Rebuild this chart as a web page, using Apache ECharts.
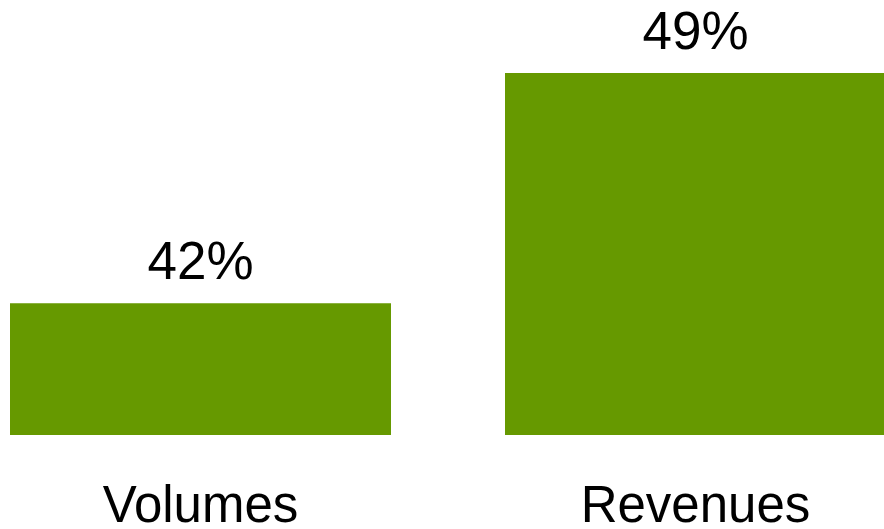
<!DOCTYPE html>
<html>
<head>
<meta charset="utf-8">
<script src="https://cdn.jsdelivr.net/npm/echarts@6/dist/echarts.min.js"></script>
<style>
  html, body { margin: 0; padding: 0; background: #ffffff; }
  #chart { width: 884px; height: 529px; }
</style>
</head>
<body>
<div id="chart"></div>
<script>
// Share of growth by measure
const categories = ['Volumes', 'Revenues'];
const shares = [42, 49];

const chart = echarts.init(document.getElementById('chart'), null, { renderer: 'canvas' });

chart.setOption({
  animation: false,
  backgroundColor: '#ffffff',
  textStyle: { fontFamily: '"Liberation Sans", Arial, sans-serif' },
  grid: {
    left: -47,
    width: 990,
    top: 40,
    bottom: 94,
    containLabel: false,
    outerBoundsMode: 'none'
  },
  xAxis: {
    type: 'category',
    data: categories,
    axisLine: { show: false },
    axisTick: { show: false },
    axisLabel: {
      color: '#000000',
      fontSize: 51,
      margin: 47,
      fontFamily: '"Liberation Sans", Arial, sans-serif'
    }
  },
  yAxis: {
    type: 'value',
    min: 38,
    max: 50,
    show: false,
    splitLine: { show: false }
  },
  series: [{
    type: 'bar',
    data: shares,
    barWidth: 381,
    itemStyle: { color: '#669900' },
    label: {
      show: true,
      position: 'top',
      distance: 12,
      formatter: '{c}%',
      color: '#000000',
      fontSize: 53,
      fontFamily: '"Liberation Sans", Arial, sans-serif'
    }
  }]
});
</script>
</body>
</html>
